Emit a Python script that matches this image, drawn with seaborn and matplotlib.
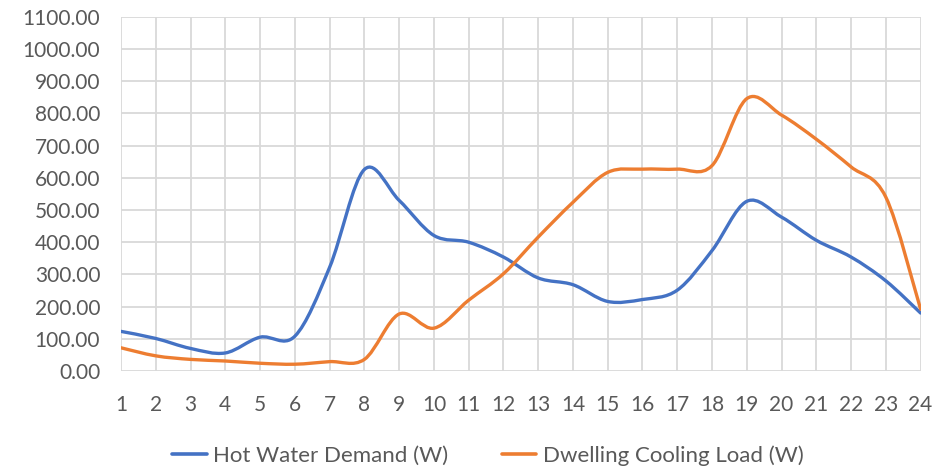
import numpy as np
import pandas as pd
import matplotlib
matplotlib.use("Agg")
import matplotlib.pyplot as plt
from matplotlib.path import Path
from matplotlib.patches import PathPatch
from matplotlib.lines import Line2D
import seaborn as sns

hours = list(range(1, 25))
hot_water = [123, 101, 70, 56, 105, 108, 322, 626, 530, 421, 400, 354, 289, 268,
             216, 222, 251, 374, 527, 478, 406, 354, 280, 180]
cooling = [72, 47, 36, 31, 24, 21, 29, 36, 177, 133, 220, 302, 416, 524,
           617, 627, 627, 638, 846, 795, 720, 634, 540, 192]
series_names = ["Hot Water Demand (W)", "Dwelling Cooling Load (W)"]
colors = ["#4472C4", "#ED7D31"]

sns.set_theme(style="whitegrid")
plt.rcParams["font.family"] = ["Lato", "DejaVu Sans"]


def smooth_path(x, y):
    # Excel-style smoothed line: cubic Bezier through each point
    pts = np.column_stack([x, y]).astype(float)
    n = len(pts)
    verts = [pts[0]]
    codes = [Path.MOVETO]
    for i in range(n - 1):
        p0 = pts[i - 1] if i > 0 else pts[i]
        p1 = pts[i]
        p2 = pts[i + 1]
        p3 = pts[i + 2] if i + 2 < n else pts[i + 1]
        c1 = p1 + (p2 - p0) / 6.0
        c2 = p2 - (p3 - p1) / 6.0
        verts += [c1, c2, p2]
        codes += [Path.CURVE4] * 3
    return Path(verts, codes)


fig = plt.figure(figsize=(9.53, 4.69), dpi=100)
ax = fig.add_axes([0.127, 0.209, 0.839, 0.755])

for vals, col in zip([hot_water, cooling], colors):
    patch = PathPatch(smooth_path(hours, vals), facecolor="none", edgecolor=col,
                      linewidth=2.4, capstyle="round", joinstyle="round", zorder=3)
    ax.add_patch(patch)

ax.set_xlim(1, 24)
ax.set_ylim(0, 1100)
ax.set_xticks(hours)
ax.set_yticks(range(0, 1101, 100))
ax.set_yticklabels([f"{v:.2f}" for v in range(0, 1101, 100)])
ax.grid(True, color="#d9d9d9", linewidth=1.3)
for s in ax.spines.values():
    s.set_visible(False)
ax.tick_params(axis="both", length=0, labelsize=15, labelcolor="#595959")
ax.tick_params(axis="x", pad=17)
ax.tick_params(axis="y", pad=15)

handles = [Line2D([0], [0], color=c, linewidth=2.6) for c in colors]
fig.legend(handles, series_names, loc="center", bbox_to_anchor=(0.512, 0.028),
           ncol=2, frameon=False, fontsize=16, handlelength=1.55,
           handletextpad=0.3, columnspacing=2.4, labelcolor="#595959")

fig.savefig("out.png", dpi=100)
